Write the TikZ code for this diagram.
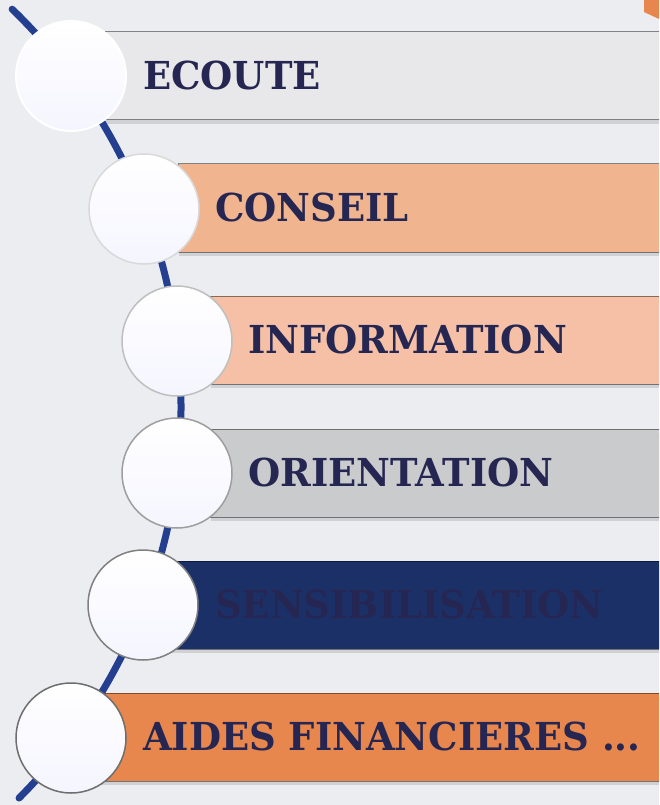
\documentclass[tikz,border=0pt]{standalone}
\usepackage{fontspec}
\newfontfamily\capfont{DejaVu Serif}[FakeStretch=0.96]
\usetikzlibrary{shadows}

\definecolor{bgcol}{HTML}{ECEDF1}
\definecolor{linecol}{HTML}{243F8F}
\definecolor{txtcol}{HTML}{262652}
\definecolor{barA}{HTML}{E8E8EA}
\definecolor{barB}{HTML}{F0B48E}
\definecolor{barC}{HTML}{F5C0A6}
\definecolor{barD}{HTML}{CACBCD}
\definecolor{barE}{HTML}{1C3068}
\definecolor{barF}{HTML}{E8874D}

\begin{document}
\begin{tikzpicture}
[x=1pt,y=-1pt,inner sep=0pt,
bar/.style={draw=black, draw opacity=0.45, line width=1pt, anchor=west,
  minimum width=600pt, minimum height=88pt,
  drop shadow={shadow xshift=0pt, shadow yshift=-4pt, opacity=0.25}},
dot/.style={circle, minimum size=110pt, line width=1.5pt,
  top color=white, bottom color=blue!4!white},
label/.style={anchor=west, text=txtcol, font=\capfont\bfseries\fontsize{38.5}{42}\selectfont}]
\useasboundingbox (0,0) rectangle (659,805);
\clip (0,0) rectangle (659,805);
\fill[bgcol] (0,0) rectangle (659,805);

% corner piece
\fill[barF] (644,0) -- (644,12) -- (659,19) -- (659,0) -- cycle;

% BARS
\node[bar, fill=barA] (b1) at (105,76) {};
\node[bar, fill=barB] (b2) at (178,208) {};
\node[bar, fill=barC] (b3) at (210,340) {};
\node[bar, fill=barD] (b4) at (210,473) {};
\node[bar, fill=barE] (b5) at (160,605) {};
\node[bar, fill=barF] (b6) at (93,737) {};

% ARC
\coordinate (arcc) at (-372,407);
\draw[linecol, line width=7pt, line cap=round] (arcc) ++(-46:553) arc (-46:45:553);

% CIRCLES
\node[dot, draw=white, line width=2pt] (c1) at (71,76) {};
\node[dot, draw=black!15] (c2) at (144,209) {};
\node[dot, draw=black!25] (c3) at (177,341) {};
\node[dot, draw=black!38] (c4) at (177,473) {};
\node[dot, draw=black!50] (c5) at (143,605) {};
\node[dot, draw=black!57] (c6) at (71,738) {};

% LABELS
\node[label] (t1) at (143,75) {ECOUTE};
\node[label] (t2) at (215,207) {CONSEIL};
\node[label] (t3) at (248,339) {INFORMATION};
\node[label] (t4) at (248,472) {ORIENTATION};
\node[label] (t5) at (215,604) {SENSIBILISATION};
\node[label] (t6) at (143,736) {AIDES FINANCIERES ...};
\end{tikzpicture}
\end{document}
